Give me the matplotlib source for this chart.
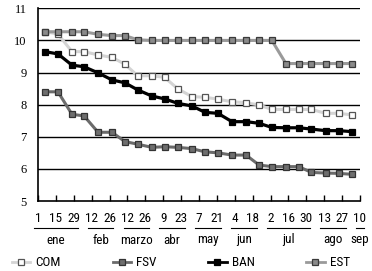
import matplotlib
matplotlib.use("Agg")
import matplotlib.pyplot as plt
from matplotlib.lines import Line2D
import matplotlib.transforms as mtransforms
from matplotlib.font_manager import FontProperties, fontManager

# ---- data ----
# x positions (day of year, Jan 1 = 0)
days = [5.5, 15.6, 26.6, 36, 47, 57.9, 68, 78, 89, 99, 109.5, 120.5,
        130.7, 140.8, 151.8, 162.8, 173, 183, 194, 204, 214, 225, 235.5, 245.7]

com = [10.27, 10.20, 9.65, 9.65, 9.55, 9.47, 9.26, 8.90, 8.90, 8.85, 8.49, 8.25,
       8.23, 8.17, 8.09, 8.06, 7.99, 7.85, 7.85, 7.85, 7.85, 7.73, 7.73, 7.68]
fsv = [8.40, 8.40, 7.70, 7.65, 7.14, 7.14, 6.85, 6.77, 6.67, 6.69, 6.67, 6.63,
       6.53, 6.50, 6.43, 6.43, 6.12, 6.07, 6.07, 6.07, 5.89, 5.87, 5.86, 5.83]
ban = [9.65, 9.58, 9.23, 9.18, 8.99, 8.77, 8.68, 8.46, 8.27, 8.18, 8.04, 7.96,
       7.76, 7.73, 7.47, 7.47, 7.42, 7.29, 7.28, 7.28, 7.24, 7.19, 7.19, 7.16]
est = [10.27, 10.27, 10.27, 10.27, 10.19, 10.15, 10.15, 10.02, 10.0, 10.0, 10.0, 10.0,
       10.0, 10.0, 10.0, 10.0, 10.0, 10.0, 9.28, 9.28, 9.28, 9.28, 9.28, 9.28]

tick_days = [0, 14, 28, 42, 56, 70, 84, 98, 112, 126, 140, 154, 168, 182, 196, 210, 224, 238, 252]
tick_labels = ["1", "15", "29", "12", "26", "12", "26", "9", "23", "7", "21",
               "4", "18", "2", "16", "30", "13", "27", "10"]
months = ["ene", "feb", "marzo", "abr", "may", "jun", "jul", "ago", "sep"]
month_first_tick = [0, 3, 5, 7, 9, 11, 13, 16, 18]
month_last_tick = [2, 4, 6, 8, 10, 12, 15, 17, 18]

y_ticks = [5, 6, 7, 8, 9, 10, 11]

installed = {f.name for f in fontManager.ttflist}
cond_candidates = ["Roboto Condensed", "Liberation Sans Narrow", "Open Sans Condensed",
                   "DejaVu Sans Condensed"]
cond = [c for c in cond_candidates if c in installed]
if cond:
    narrow = FontProperties(family=[cond[0], "DejaVu Sans"], size=9.5)
else:
    narrow = FontProperties(family=["DejaVu Sans"], size=8.6)
serif = FontProperties(family=["Liberation Serif", "DejaVu Serif"], size=9)

fig = plt.figure(figsize=(3.72, 2.71), dpi=100)
ax = fig.add_axes([38 / 372, 1 - 201 / 271, (360 - 38) / 372, (201 - 8.3) / 271])

for yv in y_ticks[1:]:
    ax.axhline(yv, color="black", lw=1.0, zorder=1)

ms = 4.6
ax.plot(days, com, color="#d4d4d4", lw=2.2, marker="s", ms=ms,
        mfc="white", mec="#555555", mew=0.9, zorder=3, label="COM")
ax.plot(days, fsv, color="#6b6b6b", lw=2.2, marker="s", ms=ms,
        mfc="#6e6e6e", mec="#333333", mew=0.9, zorder=3, label="FSV")
ax.plot(days, ban, color="black", lw=2.3, marker="s", ms=ms,
        mfc="black", mec="black", mew=0.9, zorder=4, label="BAN")
ax.plot(days, est, color="#9a9a9a", lw=2.2, marker="s", ms=ms,
        mfc="#8a8a8a", mec="#3a3a3a", mew=0.9, zorder=3, label="EST")

ax.set_xlim(0, 252)
ax.set_ylim(5, 11)
ax.set_yticks(y_ticks)
ax.set_yticklabels([str(v) for v in y_ticks], fontproperties=serif)
ax.set_xticks(tick_days)
ax.set_xticklabels(tick_labels, fontproperties=narrow)
ax.tick_params(axis="y", length=0, pad=8)
ax.tick_params(axis="x", direction="in", length=4, width=1, pad=8, color="black")
for s in ["top", "right"]:
    ax.spines[s].set_visible(False)
ax.spines["left"].set_linewidth(1.2)
ax.spines["bottom"].set_linewidth(1.2)

trans = mtransforms.blended_transform_factory(ax.transData, ax.transAxes)
ax_h = (201 - 8.3)
bar_y = -(228 - 201) / ax_h
lab_y = -(240 - 201) / ax_h
for m, a, b in zip(months, month_first_tick, month_last_tick):
    x0 = tick_days[a] - 3
    x1 = tick_days[b] + 3
    ax.plot([x0, x1], [bar_y, bar_y], transform=trans, color="black", lw=0.8,
            clip_on=False)
    ax.text((x0 + x1) / 2, lab_y, m, transform=trans, ha="center", va="center",
            fontproperties=narrow)

handles = [
    Line2D([], [], color="#d4d4d4", lw=2.0, marker="s", ms=4.2, mfc="white", mec="#555555", mew=0.9),
    Line2D([], [], color="#6b6b6b", lw=2.0, marker="s", ms=4.2, mfc="#6e6e6e", mec="#333333", mew=0.9),
    Line2D([], [], color="black", lw=2.0, marker="s", ms=4.2, mfc="black", mec="black", mew=0.9),
    Line2D([], [], color="#9a9a9a", lw=2.0, marker="s", ms=4.2, mfc="#8a8a8a", mec="#3a3a3a", mew=0.9),
]
leg = fig.legend(handles, ["COM", "FSV", "BAN", "EST"], ncol=4, loc="center left",
                 bbox_to_anchor=(12 / 372, 1 - 263 / 271), frameon=False,
                 borderpad=0, borderaxespad=0,
                 handlelength=1.4, handletextpad=0.4, columnspacing=3.9,
                 prop=narrow)

fig.savefig("out.png", dpi=100)
